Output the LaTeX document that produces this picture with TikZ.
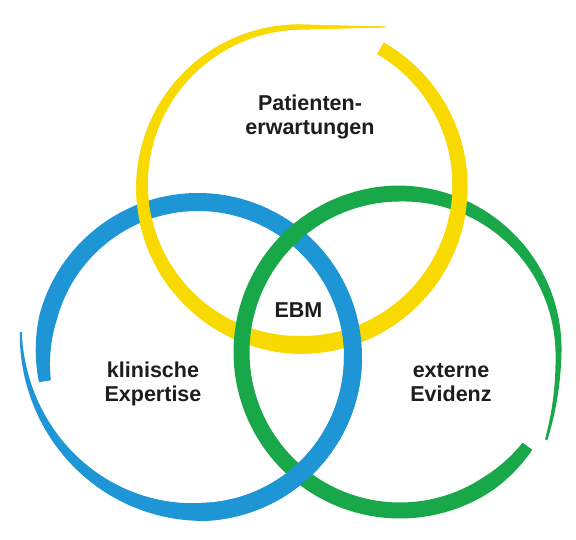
\documentclass[tikz,border=0pt]{standalone}
\usepackage{fontspec}
\setmainfont{Liberation Sans}
\usepackage{tikz}
\definecolor{inkyellow}{RGB}{248,218,0}
\definecolor{inkblue}{RGB}{30,150,214}
\definecolor{inkgreen}{RGB}{24,168,74}
\definecolor{inktext}{RGB}{30,28,30}
% one brush stroke: colour, centre, radius fn, width fn, from angle, to angle
\newcommand\brushstroke[6]{%
  \fill[#1,shift={(#2)}] plot[domain=#5:#6,samples=240] (\x:{#3(\x)+#4(\x)/2})
    -- plot[domain=#6:#5,samples=240] (\x:{#3(\x)-#4(\x)/2}) -- cycle;}

\begin{document}
\begin{tikzpicture}[x=1bp,y=1bp,
  declare function={
    yr(\q)=159/cos(max(0,-270-\q));
    yw(\q)=(\q>-90) ? 13+(60-\q)/30 : ((\q>-270) ? 18-(-90-\q)*13/180 : 5-(-270-\q)/7);
    bt(\q)=max(0,(270-\q)/98);
    br(\q)=155+24*bt(\q)*bt(\q);
    bw(\q)=min(18,2+(\q-172)*0.16,18-(\q-525)/4);
    gt(\q)=max(0,(-360-\q)/31);
    gr(\q)=158.5+12*gt(\q)*gt(\q);
    gw(\q)=(\q>-270) ? min(16,12+(-36-\q)/5) : 16-(-270-\q)/9;
  }]
\tikzstyle{ringlabel}=[font=\fontsize{21.5bp}{24bp}\selectfont\bfseries,
  text=inktext, align=center, inner sep=0pt, anchor=base]
    \fill[white] (0,0) rectangle (576,540);
    \coordinate (ymid) at (301,354);
    \coordinate (bmid) at (198,183);
    \coordinate (gmid) at (400,188);
    % lower yellow goes under, upper yellow over the others
    \brushstroke{inkyellow}{ymid}{yr}{yw}{60}{-298}
    \brushstroke{inkblue}{bmid}{br}{bw}{172}{549}
    \brushstroke{inkgreen}{gmid}{gr}{gw}{-36.5}{-391}
    \brushstroke{inkblue}{bmid}{br}{bw}{270}{360}
    \brushstroke{inkyellow}{ymid}{yr}{yw}{60}{-40}
    \brushstroke{inkyellow}{ymid}{yr}{yw}{-140}{-298}
    \node[ringlabel] (patient) at (310,405) {Patienten-\\erwartungen};
    \node[ringlabel] (ebm) at (298.5,222) {EBM};
    \node[ringlabel] (klinik) at (153,138) {klinische\\Expertise};
    \node[ringlabel] (evidenz) at (451,138) {externe\\Evidenz};
%    \node at (ymid) {x};
\end{tikzpicture}
\end{document}
